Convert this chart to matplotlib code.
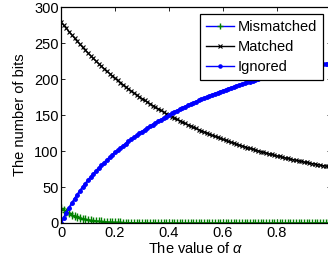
import matplotlib
matplotlib.use("Agg")
import matplotlib.pyplot as plt
from matplotlib.lines import Line2D
import numpy as np

plt.rcParams["font.family"] = ["Liberation Sans", "DejaVu Sans"]
plt.rcParams["mathtext.fontset"] = "custom"
plt.rcParams["mathtext.it"] = "Liberation Sans:italic"

# ── Data ──────────────────────────────────────────────────────────────────────
alpha = np.arange(101) / 100.0

matched = [
    279.0, 274.8, 270.4, 265.8, 261.3, 256.9, 252.6, 248.3, 244.2, 240.2,
    236.2, 232.3, 228.5, 224.8, 221.2, 217.7, 214.3, 210.9, 207.6, 204.3,
    201.1, 198.0, 195.0, 192.0, 189.1, 186.2, 183.4, 180.7, 178.0, 175.4,
    172.8, 170.3, 167.9, 165.5, 163.1, 160.8, 158.6, 156.4, 154.2, 152.0,
    149.9, 147.9, 145.9, 143.9, 142.0, 140.1, 138.3, 136.5, 134.7, 133.0,
    131.3, 129.7, 128.1, 126.5, 124.9, 123.3, 121.8, 120.4, 118.9, 117.5,
    116.1, 114.7, 113.4, 112.1, 110.8, 109.5, 108.3, 107.1, 105.9, 104.7,
    103.6, 102.5, 101.4, 100.3, 99.2, 98.2, 97.2, 96.2, 95.2, 94.2,
    93.3, 92.4, 91.5, 90.6, 89.7, 88.9, 88.1, 87.2, 86.4, 85.6,
    84.8, 84.1, 83.4, 82.6, 81.9, 81.2, 80.5, 79.8, 79.2, 78.5,
    77.9,
]

mismatched = [
    21.0, 18.0, 15.4, 13.2, 11.3, 9.7, 8.3, 7.1, 6.1, 5.2,
    4.5, 3.8, 3.3, 2.8, 2.4, 2.1, 1.8, 1.5, 1.3, 1.1,
    0.9, 0.8, 0.7, 0.6, 0.5, 0.4, 0.4, 0.3, 0.3, 0.2,
    0.2, 0.2, 0.1, 0.1, 0.1, 0.1, 0.1, 0.1, 0.1, 0.1,
    0.1, 0.0, 0.0, 0.0, 0.0, 0.0, 0.0, 0.0, 0.0, 0.0,
    0.0, 0.0, 0.0, 0.0, 0.0, 0.0, 0.0, 0.0, 0.0, 0.0,
    0.0, 0.0, 0.0, 0.0, 0.0, 0.0, 0.0, 0.0, 0.0, 0.0,
    0.0, 0.0, 0.0, 0.0, 0.0, 0.0, 0.0, 0.0, 0.0, 0.0,
    0.0, 0.0, 0.0, 0.0, 0.0, 0.0, 0.0, 0.0, 0.0, 0.0,
    0.0, 0.0, 0.0, 0.0, 0.0, 0.0, 0.0, 0.0, 0.0, 0.0,
    0.0,
]

ignored = [
    0.0, 7.2, 14.2, 21.0, 27.4, 33.4, 39.1, 44.6, 49.7, 54.6,
    59.3, 63.9, 68.2, 72.4, 76.4, 80.2, 83.9, 87.6, 91.1, 94.6,
    98.0, 101.2, 104.3, 107.4, 110.4, 113.4, 116.2, 119.0, 121.7, 124.4,
    127.0, 129.5, 132.0, 134.4, 136.8, 139.1, 141.3, 143.5, 145.7, 147.9,
    150.0, 152.1, 154.1, 156.1, 158.0, 159.9, 161.7, 163.5, 165.3, 167.0,
    168.7, 170.3, 171.9, 173.5, 175.1, 176.7, 178.2, 179.6, 181.1, 182.5,
    183.9, 185.3, 186.6, 187.9, 189.2, 190.5, 191.7, 192.9, 194.1, 195.3,
    196.4, 197.5, 198.6, 199.7, 200.8, 201.8, 202.8, 203.8, 204.8, 205.8,
    206.7, 207.6, 208.5, 209.4, 210.3, 211.1, 211.9, 212.8, 213.6, 214.4,
    215.2, 215.9, 216.6, 217.4, 218.1, 218.8, 219.5, 220.2, 220.8, 221.5,
    222.1,
]

xticks = [0, 0.2, 0.4, 0.6, 0.8, 1]
xticklabels = ["0", "0.2", "0.4", "0.6", "0.8", "1"]
yticks = [0, 50, 100, 150, 200, 250, 300]

GREEN = "#008000"
BLUE = "#0000ff"
FS = 10.5

# ── Plot ──────────────────────────────────────────────────────────────────────
fig = plt.figure(figsize=(3.28, 2.65), dpi=100)
ax = fig.add_axes([0.186, 0.1585, 0.823, 0.815])

ax.plot(alpha, mismatched, color=GREEN, lw=1.0, marker="+", ms=5.5, mew=1.0)
ax.plot(alpha, matched, color="black", lw=1.0, marker="x", ms=3.2, mew=0.8)
ax.plot(alpha, ignored, color=BLUE, lw=1.5, marker=".", ms=5)

ax.set_xlim(0, 1)
ax.set_ylim(0, 300)
ax.set_xticks(xticks)
ax.set_xticklabels(xticklabels)
ax.set_yticks(yticks)
ax.tick_params(direction="in", length=3, width=0.6, labelsize=FS, pad=2.5,
               top=True, right=True)
ax.tick_params(axis="y", pad=1.5)
for s in ax.spines.values():
    s.set_linewidth(0.9)

ax.set_xlabel(r"The value of $\alpha$", fontsize=FS)
ax.xaxis.set_label_coords(0.5, -0.085)
ax.set_ylabel("The number of bits", fontsize=FS)
ax.yaxis.set_label_coords(-0.125, 0.5)

handles = [
    Line2D([], [], color=BLUE, lw=1.0, marker="+", mec=GREEN, ms=5, mew=1.0),
    Line2D([], [], color="black", lw=1.0, marker="x", ms=3, mew=0.8),
    Line2D([], [], color=BLUE, lw=1.0, marker=".", ms=4.5),
]
leg = ax.legend(handles, ["Mismatched", "Matched", "Ignored"],
                loc="upper left", bbox_to_anchor=(0.515, 0.968),
                fontsize=FS, fancybox=False, framealpha=1,
                edgecolor="black", handlelength=1.95, handletextpad=0.25,
                borderpad=0.4, labelspacing=0.42, borderaxespad=0)
leg.get_frame().set_linewidth(0.9)

fig.savefig("out.png", dpi=100)
